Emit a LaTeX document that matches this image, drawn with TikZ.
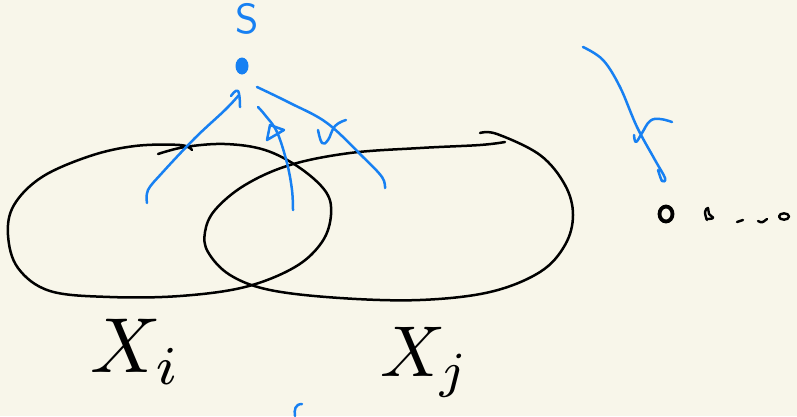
\documentclass[tikz,border=0pt]{standalone}
\usetikzlibrary{calc,shapes.geometric}
\definecolor{bg}{HTML}{F8F6EA}
\definecolor{pen}{HTML}{1780F2}
\tikzset{
  blk/.style={draw=black, line width=2.5pt, line cap=round, line join=round},
  blu/.style={draw=pen, line width=2.5pt, line cap=round, line join=round},
  lbl/.style={inner sep=0pt, text=black}
}
\begin{document}
\begin{tikzpicture}[x=1pt,y=-1pt]
\fill[bg] (0,0) rectangle (797,416);
\useasboundingbox (0,0) rectangle (797,416);
% left set X_i
\draw[blk] plot[smooth, tension=0.6] coordinates {(158,154) (185,147) (225,144) (265,150) (300,168) (326,192) (331,215) (322,242) (295,267) (245,287) (180,296) (110,297) (50,291) (18,268) (8,235) (14,205) (42,177) (90,156) (135,146) (180,145) (192,150)};
% right set X_j
\draw[blk] plot[smooth, tension=0.6] coordinates {(480,133) (497,134) (540,155) (565,185) (573,215) (565,245) (540,272) (490,292) (420,300) (340,298) (270,290) (230,275) (208,252) (205,232) (215,210) (245,185) (290,165) (350,153) (420,148) (480,145) (505,142)};
% source s
\node[lbl, text=pen, font=\sffamily, scale=4.2] (slabel) at (247,19) {S};
\fill[pen] (242,66) ellipse [x radius=6.5, y radius=8.5];
\coordinate (s) at (242,66);
% arrows into s
\draw[blu] plot[smooth, tension=0.6] coordinates {(147,203) (148,190) (162,173) (195,138) (225,110) (239,95)};
\draw[blu] plot[smooth, tension=0.8] coordinates {(240,107) (238,91) (231,96)};
\draw[blu] plot[smooth, tension=0.6] coordinates {(293,210) (292,190) (287,163) (277,132) (265,115) (258,107)};
\draw[blu] (267,140) -- (270,125) -- (284,130) -- cycle;
\draw[blu] plot[smooth, tension=0.6] coordinates {(257,87) (290,103) (327,123) (363,157) (382,177) (385,188)};
\draw[blu] plot[smooth, tension=0.7] coordinates {(318,130) (322,143) (328,140) (335,126) (346,120)};
% far right stroke
\draw[blu] plot[smooth, tension=0.6] coordinates {(583,47) (603,60) (620,87) (637,127) (655,160) (665,178) (662,181) (658,170)};
\draw[blu] plot[smooth, tension=0.7] coordinates {(634,135) (636,142) (642,133) (650,121) (660,119) (672,122)};
% black dots
\node[draw=black, line width=3.8pt, ellipse, minimum width=13pt, minimum height=15pt, inner sep=0pt] (t) at (666,214) {};
\draw[blk, line width=2.4pt] plot[smooth, tension=0.8] coordinates {(707,220) (705,212) (708,208) (709,214) (713,218) (706,219)};
\draw[blk, line width=2.4pt] (737,222) -- (743,220);
\draw[blk, line width=2.4pt] (758,221) .. controls (762,223) .. (767,219);
\draw[blk, line width=2.4pt] (784,216.5) ellipse [x radius=5, y radius=3.2];
% labels
\node[lbl, scale=7.8] (xi) at (136,352) {$X_i$};
\node[lbl, scale=7.2] (xj) at (425,362) {$X_j$};
% partial blue c
\draw[blu] (302,404) .. controls (295,404) and (294,410) .. (295,416);
\end{tikzpicture}
\end{document}
